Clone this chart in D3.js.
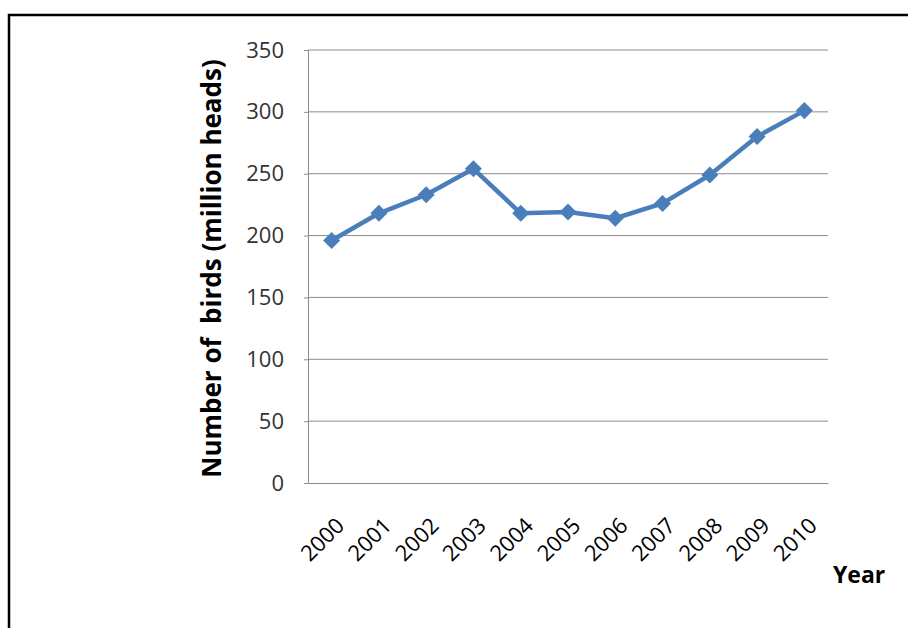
<!DOCTYPE html>
<html>
<head>
<meta charset="utf-8">
<script src="https://cdn.jsdelivr.net/npm/d3@7"></script>
<style>
  body { margin: 0; background: #fff; }
  text { font-family: "Open Sans", "Liberation Sans", sans-serif; }
</style>
</head>
<body>
<div id="chart"></div>
<script>
var years = ["2000", "2001", "2002", "2003", "2004", "2005", "2006", "2007", "2008", "2009", "2010"];
var birds = [196, 218, 233, 254, 218, 219, 214, 226, 249, 280, 301];
var yTicks = [0, 50, 100, 150, 200, 250, 300, 350];

var svgWidth = 908;
var svgHeight = 628;

var margin = { top: 50, left: 308, right: 80, bottom: 145 };
var chartWidth = 828 - margin.left;
var chartHeight = 483 - margin.top;

var svg = d3.select("#chart")
    .append("svg")
    .attr("width", svgWidth)
    .attr("height", svgHeight);

// outer frame (runs off right and bottom)
svg.append("path")
    .attr("d", "M9,640 L9,15 L920,15")
    .attr("fill", "none")
    .attr("stroke", "#000")
    .attr("stroke-width", 2.5);

var chartGroup = svg.append("g")
    .attr("transform", `translate(${margin.left}, ${margin.top})`);

var xScale = d3.scaleBand()
    .domain(years)
    .range([0, chartWidth]);

var yScale = d3.scaleLinear()
    .domain([0, 350])
    .range([chartHeight, 0]);

// gridlines
chartGroup.append("g")
    .selectAll("line")
    .data(yTicks.slice(1))
    .enter()
    .append("line")
    .attr("x1", 0)
    .attr("x2", chartWidth)
    .attr("y1", d => yScale(d))
    .attr("y2", d => yScale(d))
    .attr("stroke", "#8c8c8c")
    .attr("stroke-width", 1);

var leftAxis = d3.axisLeft(yScale)
    .tickValues(yTicks)
    .tickSize(4)
    .tickPadding(20);

var yAxis = chartGroup.append("g").call(leftAxis);
yAxis.select(".domain").attr("stroke", "#8c8c8c");
yAxis.selectAll(".tick line").attr("stroke", "#8c8c8c");
yAxis.selectAll("text")
    .attr("font-size", 22)
    .attr("fill", "#333");

var bottomAxis = d3.axisBottom(xScale)
    .tickSize(0)
    .tickPadding(0);

var xAxis = chartGroup.append("g")
    .attr("transform", `translate(0, ${chartHeight})`)
    .call(bottomAxis);
xAxis.select(".domain").attr("stroke", "#8c8c8c");
xAxis.selectAll("text")
    .attr("font-size", 22)
    .attr("fill", "#000")
    .attr("text-anchor", "end")
    .attr("dy", 0)
    .attr("transform", "translate(14, 44) rotate(-45)");

// line + markers
var line = d3.line()
    .x((d, i) => xScale(years[i]) + xScale.bandwidth() / 2)
    .y(d => yScale(d));

chartGroup.append("path")
    .datum(birds)
    .attr("d", line)
    .attr("fill", "none")
    .attr("stroke", "#4a7ebb")
    .attr("stroke-width", 4.5)
    .attr("stroke-linejoin", "round");

chartGroup.selectAll(".marker")
    .data(birds)
    .enter()
    .append("path")
    .attr("class", "marker")
    .attr("d", d3.symbol().type(d3.symbolDiamond2).size(185))
    .attr("transform", (d, i) => `translate(${xScale(years[i]) + xScale.bandwidth() / 2}, ${yScale(d)})`)
    .attr("fill", "#4a7ebb");

// axis titles
svg.append("text")
    .attr("transform", `translate(221, ${(62 + 475) / 2}) rotate(-90)`)
    .attr("text-anchor", "middle")
    .attr("font-size", 26)
    .attr("font-weight", "bold")
    .attr("fill", "#000")
    .style("white-space", "pre")
    .text("Number of  birds (million heads)");

svg.append("text")
    .attr("x", 833)
    .attr("y", 583)
    .attr("font-size", 23)
    .attr("font-weight", "bold")
    .attr("fill", "#000")
    .text("Year");
</script>
</body>
</html>
